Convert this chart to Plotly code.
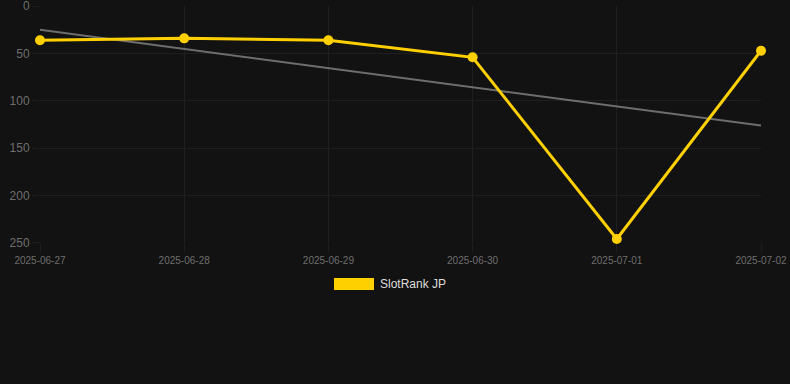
import plotly.graph_objects as go
import numpy as np

dates = ["2025-06-27", "2025-06-28", "2025-06-29", "2025-06-30", "2025-07-01", "2025-07-02"]
ranks = [36, 34, 36, 54, 246, 47]
series_name = "SlotRank JP"
y_ticks = [0, 50, 100, 150, 200, 250]

# linear trend from the data
xi = np.arange(len(ranks))
slope, intercept = np.polyfit(xi, ranks, 1)
trend = [intercept + slope * i for i in xi]

YELLOW = "#FFD000"
BG = "#121212"
GRID = "#1f1f1f"

fig = go.Figure()
fig.add_trace(go.Scatter(
    x=[dates[0], dates[-1]], y=[trend[0], trend[-1]],
    mode="lines", line=dict(color="rgba(140,140,140,0.75)", width=2),
    showlegend=False, hoverinfo="skip", cliponaxis=False))
fig.add_trace(go.Scatter(
    x=dates, y=ranks, mode="lines+markers", name=series_name,
    line=dict(color=YELLOW, width=3),
    marker=dict(color=YELLOW, size=10),
    showlegend=False, cliponaxis=False))

# manual legend
fig.add_shape(type="rect", xref="paper", yref="paper",
              x0=(334 - 40) / 721, x1=(374 - 40) / 721,
              y0=(243 - 278) / 237, y1=(243 - 290) / 237,
              fillcolor=YELLOW, line=dict(width=0))
fig.add_annotation(xref="paper", yref="paper", x=(378 - 40) / 721, y=(243 - 284) / 237,
                   text=series_name, showarrow=False, xanchor="left", yanchor="middle",
                   font=dict(color="#dddddd", size=12, family="Liberation Sans, Arial, sans-serif"))

fig.update_layout(
    width=790, height=384,
    margin=dict(l=40, r=29, t=6, b=141, autoexpand=False),
    paper_bgcolor=BG, plot_bgcolor=BG,
    font=dict(family="Liberation Sans, Arial, sans-serif", color="#707070"),
    xaxis=dict(type="date", range=[dates[0], dates[-1]],
               tickvals=dates, ticktext=dates, automargin=False,
               tickfont=dict(size=10, color="#6e6e6e"), ticklabeloverflow="allow",
               showgrid=True, gridcolor=GRID, gridwidth=1,
               zeroline=False, showline=False,
               ticks="outside", ticklen=8, tickcolor=GRID, tickwidth=1, ticklabelstandoff=0),
    yaxis=dict(range=[250.2, -0.2], tickvals=y_ticks, automargin=False,
               tickfont=dict(size=12, color="#6e6e6e"), ticklabeloverflow="allow",
               showgrid=True, gridcolor=GRID, gridwidth=1,
               zeroline=False, showline=False,
               ticks="outside", ticklen=7, tickcolor=GRID, tickwidth=1, ticklabelstandoff=0),
)

fig.write_html("out.html", config={"displayModeBar": False})

with open("out.html", "r", encoding="utf-8") as f:
    html = f.read()
html = html.replace("<head>", "<head><style>html,body{margin:0;padding:0;background:#121212;overflow:hidden}</style>", 1)
with open("out.html", "w", encoding="utf-8") as f:
    f.write(html)
